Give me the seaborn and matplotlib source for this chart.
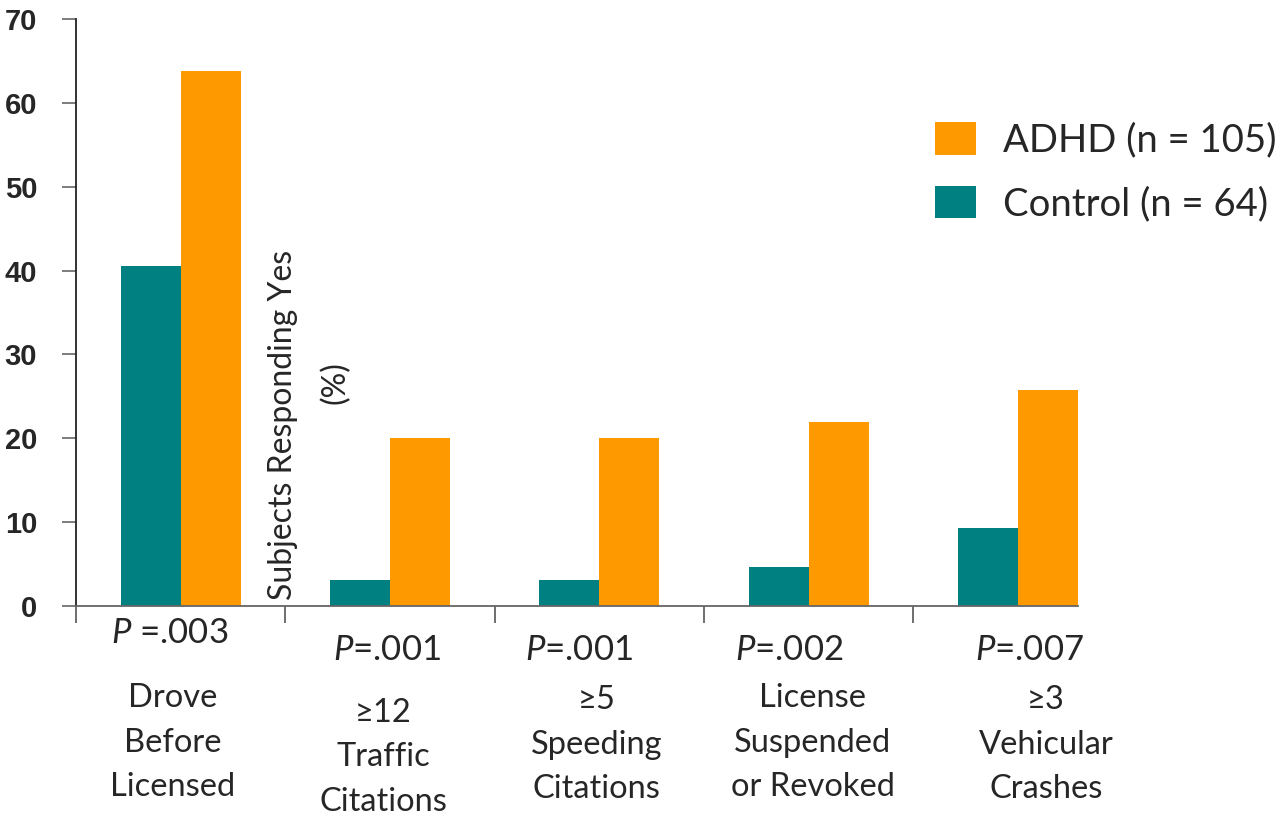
import pandas as pd
import matplotlib.pyplot as plt
import seaborn as sns
from matplotlib.patches import Patch
from matplotlib import transforms

# data
categories = ["Drove Before Licensed", "≥12 Traffic Citations", "≥5 Speeding Citations",
              "License Suspended or Revoked", "≥3 Vehicular Crashes"]
category_lines = [["Drove", "Before", "Licensed"],
                  ["≥12", "Traffic", "Citations"],
                  ["≥5", "Speeding", "Citations"],
                  ["License", "Suspended", "or Revoked"],
                  ["≥3", "Vehicular", "Crashes"]]
p_labels = ["$P$ =.003", "$P$=.001", "$P$=.001", "$P$=.002", "$P$=.007"]
control_pct = [40.5, 3.1, 3.1, 4.6, 9.3]
adhd_pct = [63.8, 20.0, 20.0, 21.9, 25.7]
groups = ["Control", "ADHD"]
legend_labels = {"ADHD": "ADHD (n = 105)", "Control": "Control (n = 64)"}
colors = {"Control": "#008080", "ADHD": "#FF9900"}

df = pd.DataFrame({
    "category": categories * 2,
    "group": ["Control"] * len(categories) + ["ADHD"] * len(categories),
    "pct": control_pct + adhd_pct,
})

sns.set_style("white")
plt.rcParams["font.family"] = ["Lato", "DejaVu Sans"]
plt.rcParams["mathtext.fontset"] = "custom"
plt.rcParams["mathtext.rm"] = "Lato"
plt.rcParams["mathtext.it"] = "Lato:italic"

W, H = 1282, 817
fig = plt.figure(figsize=(W / 100, H / 100), dpi=100)
ax = fig.add_axes([76 / W, 1 - 606 / H, (1078 - 76) / W, (606 - 19) / H])

sns.barplot(data=df, x="category", y="pct", hue="group", hue_order=groups,
            palette=colors, width=0.573, saturation=1, linewidth=0,
            legend=False, ax=ax)

ax.set_xlim(-0.5, 4.2865)
ax.set_ylim(0, 70)
ax.set_yticks(range(0, 71, 10))
ax.set_yticklabels([str(v) for v in range(0, 71, 10)],
                   fontfamily="Liberation Sans", fontweight="bold", fontsize=21)
ax.set_xticks([-0.5, 0.5, 1.5, 2.5, 3.5])
ax.set_xticklabels([])
ax.set_xlabel("")
ax.set_ylabel("")
ax.tick_params(axis="y", left=True, length=10, width=1.2, color="#666666", pad=18)
ax.tick_params(axis="x", bottom=True, length=12, width=1.2, color="#555555")
for s in ["top", "right"]:
    ax.spines[s].set_visible(False)
ax.spines["left"].set_color("#222222")
ax.spines["left"].set_linewidth(1.3)
ax.spines["bottom"].set_color("#666666")
ax.spines["bottom"].set_linewidth(1.3)

# text under the axis, x in category units, y in pixels from the top
tr = transforms.blended_transform_factory(ax.transData, fig.transFigure)
px = 1 / 209.5
p_dx = [-11, -3, -20, -19, 11]
p_y = [633, 650, 650, 650, 650]
lab_dx = [-8, -7, -3, 4, 28]
lab_y = [698, 713, 700, 698, 700]
for i in range(len(categories)):
    ax.text(i + p_dx[i] * px, 1 - p_y[i] / H, p_labels[i], transform=tr,
            ha="center", va="center", fontsize=25)
    for k, line in enumerate(category_lines[i]):
        ax.text(i + lab_dx[i] * px, 1 - (lab_y[i] + 44.5 * k) / H, line, transform=tr,
                ha="center", va="center", fontsize=23.5)

# y label sits inside the plot
fig.text(283 / W, 1 - 425 / H, "Subjects Responding Yes", rotation=90,
         ha="center", va="center", fontsize=23)
fig.text(335 / W, 1 - 383 / H, "(%)", rotation=90,
         ha="center", va="center", fontsize=23)

handles = [Patch(facecolor=colors[g], edgecolor="none") for g in ["ADHD", "Control"]]
fig.legend(handles, [legend_labels["ADHD"], legend_labels["Control"]],
           loc="upper left", bbox_to_anchor=(935 / W, 1 - 122 / H),
           frameon=False, fontsize=27.5, handlelength=1.07, handleheight=0.94,
           handletextpad=0.7, labelspacing=0.71, borderpad=0, borderaxespad=0)

fig.savefig("out.png", dpi=100)
